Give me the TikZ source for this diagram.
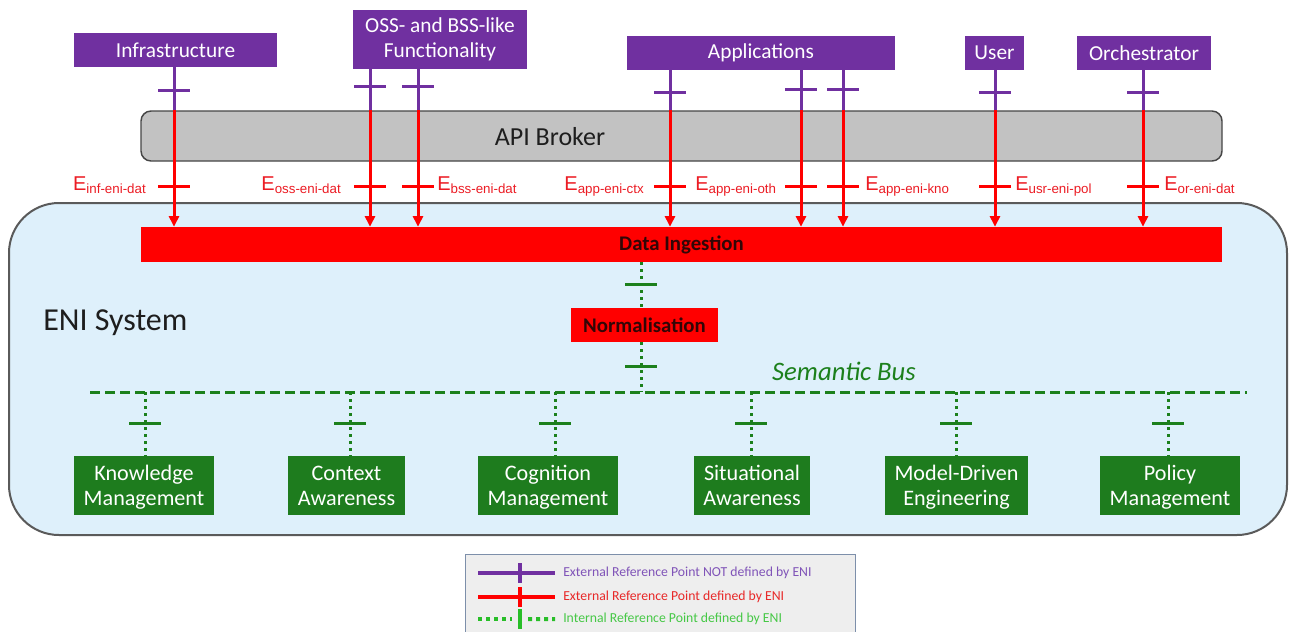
\documentclass[tikz,border=0pt]{standalone}
\usepackage{fontspec}
\setmainfont{Carlito}
\newfontfamily\labelfont{Liberation Sans}
\usetikzlibrary{arrows.meta,calc}

\definecolor{enipurple}{RGB}{112,48,160}
\definecolor{enired}{RGB}{255,0,0}
\definecolor{labelred}{RGB}{236,28,36}
\definecolor{enigreen}{RGB}{30,124,30}
\definecolor{busgreen}{RGB}{28,128,28}
\definecolor{systemfill}{RGB}{222,240,251}
\definecolor{systemdraw}{RGB}{90,90,90}
\definecolor{brokerfill}{RGB}{194,194,194}
\definecolor{brokerdraw}{RGB}{70,70,70}
\definecolor{legendfill}{RGB}{238,238,238}
\definecolor{legenddraw}{RGB}{125,143,170}
\definecolor{legpurple}{RGB}{128,84,184}
\definecolor{legred}{RGB}{232,40,40}
\definecolor{leggreen}{RGB}{70,200,70}
\definecolor{leggreenline}{RGB}{40,190,40}
\definecolor{darktext}{RGB}{30,30,30}
\definecolor{ingesttext}{RGB}{50,6,6}

% reference point label: E with a subscript
\newcommand\refE[1]{E\raisebox{-2.8pt}{\fontsize{10}{10}\selectfont #1}}

\tikzset{
  extbox/.style={fill=enipurple, text=white, inner sep=0pt, align=center,
    font=\fontsize{16}{19}\selectfont},
  funcbox/.style={fill=enigreen, text=white, inner sep=0pt, align=center,
    minimum height=44.25pt, font=\fontsize{16.6}{19}\selectfont},
  redbox/.style={fill=enired, text=ingesttext, inner sep=0pt,
    font=\bfseries\fontsize{15.6}{18}\selectfont},
  purpleline/.style={enipurple, line width=2.25pt},
  redline/.style={enired, line width=2.25pt},
  redarrow/.style={redline, -{Triangle[length=8pt,width=7.5pt]}},
  dotline/.style={busgreen, line width=2.25pt, dash pattern=on 2.25pt off 3pt},
  busline/.style={busgreen, line width=2.25pt, dash pattern=on 7.5pt off 3.75pt},
  reflabel/.style={labelred, inner sep=0pt, font=\labelfont\fontsize{15}{15}\selectfont},
  legtext/.style={anchor=west, inner sep=0pt, font=\fontsize{10.3}{12}\selectfont},
  tickbar/.pic={\draw (-16,0) -- (16,0);},
}

\begin{document}
\begin{tikzpicture}[x=0.75pt,y=-0.75pt]
\useasboundingbox[fill=white] (0,0) rectangle (1290,632);

% ENI system container
\node[draw=systemdraw, fill=systemfill, line width=1.5pt, rounded corners=37.5pt,
  minimum width=958.5pt, minimum height=249pt, inner sep=0pt] (eni) at (648,369) {};
\node[anchor=west, inner sep=0pt, text=darktext, font=\fontsize{24}{28}\selectfont]
  (enilabel) at (43,323) {ENI System};

% API broker
\node[draw=brokerdraw, fill=brokerfill, line width=1.1pt, rounded corners=7.5pt,
  minimum width=810.75pt, minimum height=37.5pt, inner sep=0pt] (broker) at (681.5,136) {};
\node[text=darktext, inner sep=0pt, font=\fontsize{19.5}{22}\selectfont]
  (brokerlabel) at (550,137) {API Broker};

% external entities
\node[extbox, minimum width=152.25pt, minimum height=25.5pt] (infra) at (175.5,50) {Infrastructure};
\node[extbox, minimum width=130.5pt, minimum height=44.25pt] (oss) at (440,39.5) {OSS- and BSS-like\\Functionality};
\node[extbox, minimum width=201pt, minimum height=25.5pt] (apps) at (761,53) {Applications};
\node[extbox, minimum width=44.25pt, minimum height=25.5pt] (user) at (994.5,53) {User};
\node[extbox, minimum width=100.5pt, minimum height=25.5pt] (orch) at (1144,53) {Orchestrator};

% ENI internal blocks
\node[redbox, minimum width=810.75pt, minimum height=26.25pt] (ingest) at (681.5,244.5) {Data Ingestion};
\node[redbox, minimum width=110.25pt, minimum height=25.5pt] (norm) at (644.5,325) {Normalisation};

\begin{scope}[every node/.append style={text depth=0pt}]
\node[funcbox, minimum width=105pt] (km) at (144,485.5) {Knowledge\\Management};
\node[funcbox, minimum width=87.75pt] (ca) at (346.5,485.5) {Context\\Awareness};
\node[funcbox, minimum width=105pt] (cm) at (548,485.5) {Cognition\\Management};
\node[funcbox, minimum width=87pt] (sa) at (752,485.5) {Situational\\Awareness};
\node[funcbox, minimum width=107.25pt] (mde) at (956.5,485.5) {Model-Driven\\Engineering};
\node[funcbox, minimum width=105pt] (pm) at (1170,485.5) {Policy\\Management};
\end{scope}

% x positions of the reference point connectors
\coordinate (xinf) at (174,0);
\coordinate (xoss) at (370,0);
\coordinate (xbss) at (418,0);
\coordinate (xctx) at (670,0);
\coordinate (xoth) at (801,0);
\coordinate (xkno) at (843,0);
\coordinate (xusr) at (995,0);
\coordinate (xor)  at (1143,0);

% external reference points: purple above the broker, red below it
\foreach \c/\src/\ty in {xinf/infra/90, xoss/oss/86, xbss/oss/86, xctx/apps/92,
                         xoth/apps/89, xkno/apps/89, xusr/user/92, xor/orch/92} {
  \draw[purpleline] (\c |- \src.south) -- (\c |- broker.north);
  \pic[enipurple, line width=2.25pt] at (\c |- 0,\ty) {tickbar};
  \draw[redarrow] (\c |- broker.north) -- (\c |- ingest.north);
  \pic[enired, line width=2.25pt] at (\c |- 0,186) {tickbar};
}

% reference point names
\node[reflabel, anchor=base east] (linf) at (146,190) {\refE{inf-eni-dat}};
\node[reflabel, anchor=base east] (loss) at (341,190) {\refE{oss-eni-dat}};
\node[reflabel, anchor=base west] (lbss) at (437,190) {\refE{bss-eni-dat}};
\node[reflabel, anchor=base east] (lctx) at (644,190) {\refE{app-eni-ctx}};
\node[reflabel, anchor=base west] (loth) at (695,190) {\refE{app-eni-oth}};
\node[reflabel, anchor=base west] (lkno) at (865,190) {\refE{app-eni-kno}};
\node[reflabel, anchor=base west] (lusr) at (1015,190) {\refE{usr-eni-pol}};
\node[reflabel, anchor=base west] (lor)  at (1164,190) {\refE{or-eni-dat}};

% semantic bus
\coordinate (busL) at (90,392);
\coordinate (busR) at (1247,392);
\draw[busline] (busL) -- (busR);
\node[text=busgreen, inner sep=0pt, font=\itshape\fontsize{20}{23}\selectfont]
  (buslabel) at (844,371) {Semantic Bus};

% internal reference points
\coordinate (xn) at (641,0);
\draw[dotline] (xn |- ingest.south) -- (xn |- norm.north);
\pic[busgreen, line width=2.25pt] at (xn |- 0,284) {tickbar};
\draw[dotline] (xn |- norm.south) -- (xn |- busL);
\pic[busgreen, line width=2.25pt] at (xn |- 0,366) {tickbar};

\foreach \b/\x in {km/145, ca/350, cm/555, sa/751, mde/956, pm/1168} {
  \coordinate (x\b) at (\x,0);
  \draw[dotline] (x\b |- busL) -- (x\b |- \b.north);
  \pic[busgreen, line width=2.25pt] at (x\b |- 0,423) {tickbar};
}

% legend
\node[draw=legenddraw, fill=legendfill, line width=1.1pt, anchor=north west,
  minimum width=292.5pt, minimum height=66pt, inner sep=0pt] (legend) at (465,554) {};
\coordinate (la) at (478,573);
\coordinate (lb) at (555,573);
\draw[enipurple, line width=3pt] (la) -- (lb);
\draw[enipurple, line width=3pt] ($(la)!0.545!(lb)+(0,-10)$) -- ++(0,20);
\node[legtext, text=legpurple] (lt1) at (563,573) {External Reference Point NOT defined by ENI};

\coordinate (lc) at (478,597);
\coordinate (ld) at (555,597);
\draw[enired, line width=3pt] (lc) -- (ld);
\draw[enired, line width=3pt] ($(lc)!0.545!(ld)+(0,-10)$) -- ++(0,20);
\node[legtext, text=legred] (lt2) at (563,597) {External Reference Point defined by ENI};

\coordinate (le) at (478,619);
\coordinate (lf) at (555,619);
\draw[leggreenline, line width=3pt, dash pattern=on 3pt off 3pt] (le) -- ($(le)!0.44!(lf)$);
\draw[leggreenline, line width=3pt, dash pattern=on 3pt off 3pt] ($(le)!0.65!(lf)$) -- (lf);
\draw[leggreenline, line width=3pt] ($(le)!0.545!(lf)+(0,-10)$) -- ++(0,20);
\node[legtext, text=leggreen] (lt3) at (563,619) {Internal Reference Point defined by ENI};
\end{tikzpicture}
\end{document}
